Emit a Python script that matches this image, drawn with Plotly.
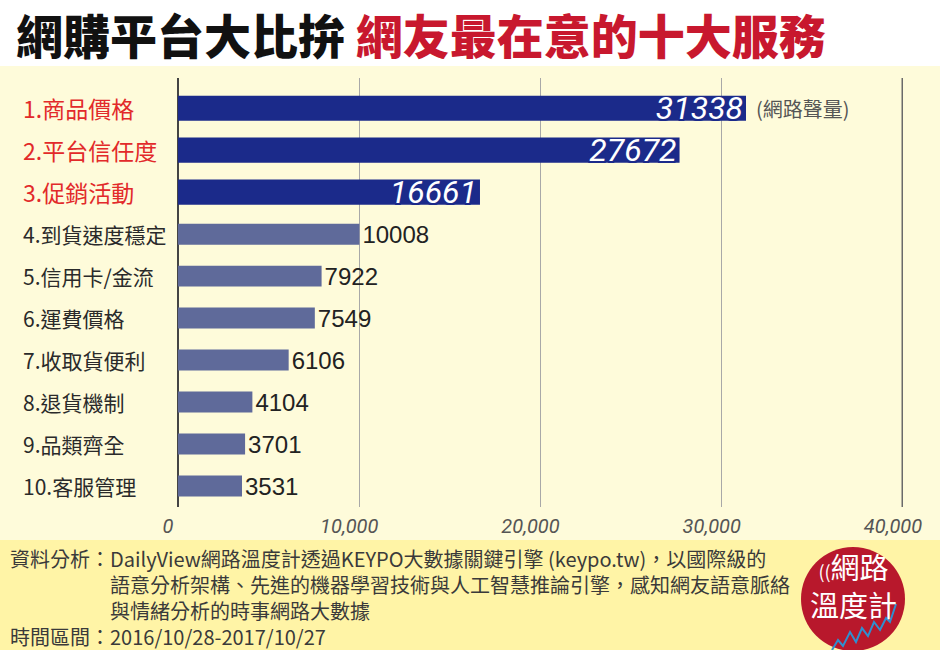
import plotly.graph_objects as go

# ---- data ----
categories = ["1.商品價格", "2.平台信任度", "3.促銷活動", "4.到貨速度穩定", "5.信用卡/金流",
              "6.運費價格", "7.收取貨便利", "8.退貨機制", "9.品類齊全", "10.客服管理"]
values = [31338, 27672, 16661, 10008, 7922, 7549, 6106, 4104, 3701, 3531]
tick_values = [0, 10000, 20000, 30000, 40000]
tick_labels = ["0", "10,000", "20,000", "30,000", "40,000"]
n_highlight = 3

title_black = "網購平台大比拚"
title_red = "網友最在意的十大服務"
unit_label = "(網路聲量)"
footer_lines = [
    "資料分析：DailyView網路溫度計透過KEYPO大數據關鍵引擎 (keypo.tw)，以國際級的",
    "　　　　　語意分析架構、先進的機器學習技術與人工智慧推論引擎，感知網友語意脈絡",
    "　　　　　與情緒分析的時事網路大數據",
    "時間區間：2016/10/28-2017/10/27",
]
logo_lines = ["網路", "溫度計"]

W, H = 940, 650
CJK = "Noto Sans CJK TC"
NAVY = "#1B2A8A"
SLATE = "#5F6A9A"
CREAM = "#FEFBDA"
FOOTER = "#FFF4A6"
RED_T = "#C8182E"
RED_C = "#E22A2A"


def px(x):
    return x / W


def py(y):
    return 1 - y / H


fig = go.Figure()

outline = ", ".join(f"{dx}px {dy}px 0 {NAVY}" for dx in (-1.5, 0, 1.5) for dy in (-1.5, 0, 1.5))

fig.add_trace(go.Bar(
    y=categories[:n_highlight], x=values[:n_highlight], orientation="h",
    marker=dict(color=NAVY, line=dict(width=0)), width=0.6,
    text=[str(v) for v in values[:n_highlight]],
    textposition="inside", insidetextanchor="end", constraintext="none",
    textfont=dict(family="Roboto", size=32, color="white", style="italic", shadow=outline),
    cliponaxis=False, hoverinfo="skip",
))
fig.add_trace(go.Bar(
    y=categories[n_highlight:], x=values[n_highlight:], orientation="h",
    marker=dict(color=SLATE, line=dict(width=0)), width=0.5,
    text=[str(v) for v in values[n_highlight:]],
    textposition="outside", constraintext="none",
    textfont=dict(family="Liberation Sans", size=24, color="#222"),
    cliponaxis=False, hoverinfo="skip",
))

shapes = [
    dict(type="rect", xref="paper", yref="paper", x0=0, x1=1, y0=py(540), y1=py(66),
         fillcolor=CREAM, line=dict(width=0), layer="below"),
    dict(type="rect", xref="paper", yref="paper", x0=0, x1=1, y0=0, y1=py(540),
         fillcolor=FOOTER, line=dict(width=0), layer="below"),
    dict(type="line", xref="x", yref="y domain", x0=40000, x1=40000, y0=0, y1=1,
         line=dict(color="#6A6A6A", width=3)),
    # logo
    dict(type="circle", xref="paper", yref="paper", x0=px(801), x1=px(905), y0=py(651), y1=py(547),
         fillcolor="#B8182C", line=dict(width=0)),
]
zig = [(832, 650), (838, 640), (843, 646), (850, 632), (856, 642), (862, 628), (868, 636),
       (874, 622), (880, 630), (886, 618), (890, 622), (896, 604)]
path = "M " + " L ".join(f"{px(a):.4f},{py(b):.4f}" for a, b in zig)
shapes.append(dict(type="path", xref="paper", yref="paper", path=path,
                   line=dict(color="#2F8FD0", width=2)))

annotations = [
    dict(xref="paper", yref="paper", x=px(14), y=py(34), xanchor="left", yanchor="middle",
         showarrow=False,
         text=f"<span style='color:#111'>{title_black}</span> <span style='color:{RED_T}'>{title_red}</span>",
         font=dict(family=CJK, size=47, weight=900)),
    dict(xref="paper", yref="y", x=px(754), y=categories[0], xanchor="left", yanchor="middle",
         showarrow=False, text=unit_label, font=dict(family=CJK, size=20, color="#555")),
]
for i, c in enumerate(categories):
    hl = i < n_highlight
    annotations.append(dict(
        xref="paper", yref="y", x=px(21), y=c, xanchor="left", yanchor="middle", showarrow=False,
        text=c, font=dict(family=CJK, size=23 if hl else 21, color=RED_C if hl else "#2A2A2A")))

annotations.append(dict(
    xref="paper", yref="paper", x=px(8), y=py(597), xanchor="left", yanchor="middle",
    align="left", showarrow=False, text="<br>".join(footer_lines),
    font=dict(family=CJK, size=20, color="#3A3A3A")))
annotations.append(dict(
    xref="paper", yref="paper", x=px(853), y=py(585), xanchor="center", yanchor="middle",
    align="center", showarrow=False,
    text="<span style='font-size:18px'>((</span>" + logo_lines[0] + "<br>" + logo_lines[1],
    font=dict(family=CJK, size=29, color="white")))

fig.update_layout(
    template="none",
    width=W, height=H, margin=dict(l=0, r=0, t=0, b=0, autoexpand=False),
    paper_bgcolor="white", plot_bgcolor="rgba(0,0,0,0)",
    showlegend=False, barmode="overlay",
    shapes=shapes, annotations=annotations,
    xaxis=dict(domain=[px(178), px(903)], range=[0, 40000], tickvals=tick_values, ticktext=tick_labels,
               automargin=False,
               showgrid=True, gridcolor="#A8A8A8", gridwidth=1,
               zeroline=True, zerolinecolor="#444", zerolinewidth=2,
               ticks="", ticklabelstandoff=5, ticklabelshift=-10,
               tickfont=dict(family="Roboto", size=20, color="#555", style="italic"),
               fixedrange=True),
    yaxis=dict(domain=[py(507), py(78)], range=[9.5, -0.72], type="category",
               categoryorder="array", categoryarray=categories, automargin=False,
               showticklabels=False, showgrid=False, zeroline=False, ticks="", fixedrange=True),
)

fig.write_html("out.html", config={"displayModeBar": False},
               post_script="document.body.style.margin='0';document.body.style.overflow='hidden';")
